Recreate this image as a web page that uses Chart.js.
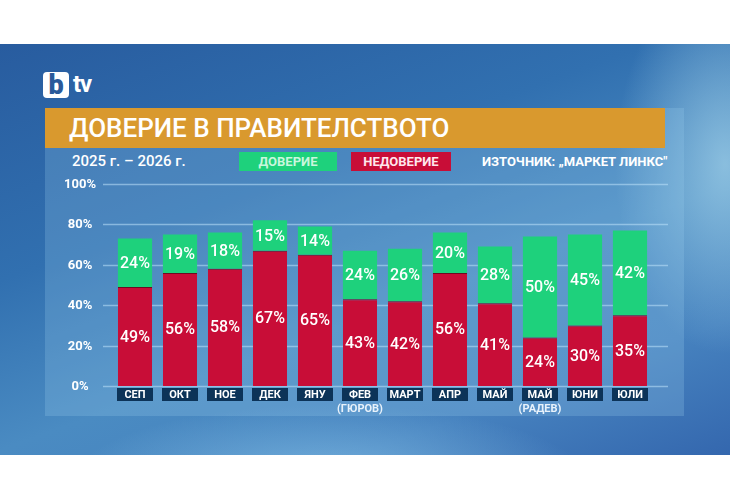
<!DOCTYPE html>
<html>
<head>
<meta charset="utf-8">
<script src="https://cdn.jsdelivr.net/npm/chart.js@4"></script>
<style>
  body { margin: 0; width: 730px; height: 500px; background: #fff; overflow: hidden; font-family: Roboto, "Noto Sans", sans-serif; }
  .bg {
    position: absolute; left: 0; top: 44px; width: 730px; height: 411px;
    background:
      radial-gradient(ellipse 110px 190px at 725px 120px, rgba(160,208,232,0.75), rgba(160,208,232,0) 100%),
      radial-gradient(ellipse 260px 80px at 330px 440px, rgba(140,200,235,0.7), rgba(140,200,235,0) 100%),
      linear-gradient(160deg, #285c9f 0%, #3170b0 35%, #4a8bc2 60%, #4682bf 80%, #3467ae 100%);
  }
  .panel { position: absolute; left: 45px; top: 108px; width: 639px; height: 308px; background: rgba(150,205,235,0.25); }
  .logo { position: absolute; left: 43px; top: 72px; height: 26px; }
  .logo .b { position: absolute; left: 0; top: 0; width: 26px; height: 26px; background: #fff; border-radius: 4px;
             color: #2a5a9a; font: 900 27px/26px Roboto, sans-serif; text-align: center; }
  .logo .tv { position: absolute; left: 30px; top: -2px; color: #fff; font: 700 24px/28px Roboto, sans-serif; letter-spacing: -1px; }
  .title { position: absolute; left: 45px; top: 108px; width: 620px; height: 40px; background: #d9992e; }
  .title span { position: absolute; left: 24px; top: 4px; color: #fff; font: 500 26px/32px Roboto, sans-serif; white-space: nowrap; }
  .sub { position: absolute; top: 152px; height: 19px; font: 500 15px/19px Roboto, sans-serif; color: #fff; white-space: nowrap; }
  .leg { position: absolute; top: 152px; height: 19px; font: 700 13px/19px Roboto, sans-serif; text-align: center; }
  #wrap { position: absolute; left: 0; top: 0; width: 730px; height: 500px; }
</style>
</head>
<body>
<div class="bg"></div>
<div class="panel"></div>
<div class="logo"><div class="b">b</div><div class="tv">tv</div></div>
<div class="title"><span>ДОВЕРИЕ В ПРАВИТЕЛСТВОТО</span></div>
<div class="sub" style="left:72px">2025 г. – 2026 г.</div>
<div class="leg" style="left:239px;width:98px;background:#1ed17c;color:#c9f6dd">ДОВЕРИЕ</div>
<div class="leg" style="left:351px;width:100px;background:#c80d37;color:#ffe6ec">НЕДОВЕРИЕ</div>
<div class="sub" style="left:482px;font-weight:700;font-size:13px">ИЗТОЧНИК: „МАРКЕТ ЛИНКС"</div>
<div id="wrap"><canvas id="chart"></canvas></div>

<script>
// months (second line = note under the label)
const months = [['СЕП'], ['ОКТ'], ['НОЕ'], ['ДЕК'], ['ЯНУ'], ['ФЕВ', '(ГЮРОВ)'], ['МАРТ'], ['АПР'], ['МАЙ'], ['МАЙ', '(РАДЕВ)'], ['ЮНИ'], ['ЮЛИ']];
const trust    = [24, 19, 18, 15, 14, 24, 26, 20, 28, 50, 45, 42];
const distrust = [49, 56, 58, 67, 65, 43, 42, 56, 41, 24, 30, 35];
const yTicks = [0, 20, 40, 60, 80, 100];

const red = '#c80d37';
const green = '#1ed17c';

/*** grid, axis labels, value labels */
const decor = {
  id: 'decor',
  beforeDatasetsDraw(chart) {
    const c = chart.ctx, y = chart.scales.y;
    c.save();
    c.strokeStyle = 'rgba(190,225,250,0.55)';
    c.lineWidth = 1.5;
    c.fillStyle = '#fff';
    c.font = 'bold 13px Roboto';
    c.textAlign = 'center';
    c.textBaseline = 'middle';
    yTicks.forEach(v => {
      const py = Math.round(y.getPixelForValue(v)) + 0.5;
      c.beginPath();
      c.moveTo(103, py);
      c.lineTo(668, py);
      c.stroke();
      c.fillText(v + '%', 80, py);
    });
    c.restore();
  },
  afterDatasetsDraw(chart) {
    const c = chart.ctx, x = chart.scales.x;
    c.save();
    c.textAlign = 'center';
    c.textBaseline = 'middle';
    // values in the middle of each segment
    c.font = '500 16px Roboto';
    c.fillStyle = '#fff';
    chart.data.datasets.forEach((ds, i) => {
      chart.getDatasetMeta(i).data.forEach((bar, j) => {
        const p = bar.getProps(['x', 'y', 'base'], true);
        c.fillText(ds.data[j] + '%', p.x, (p.y + p.base) / 2 + 1);
      });
    });
    // month boxes under bars
    const bottom = chart.chartArea.bottom;
    months.forEach((m, j) => {
      const px = x.getPixelForValue(j);
      c.fillStyle = '#0c3358';
      c.fillRect(px - 18, bottom + 2, 36, 13);
      c.fillStyle = '#fff';
      c.font = 'bold 11px Roboto';
      c.fillText(m[0], px, bottom + 9);
      if (m[1]) {
        c.fillStyle = '#e8f2fb';
        c.fillText(m[1], px, bottom + 23);
      }
    });
    c.restore();
  }
};

const ctx = document.getElementById('chart').getContext('2d');
const chart = new Chart(ctx, {
  type: 'bar',
  data: {
    labels: months.map(m => m.join(' ')),
    datasets: [{
      label: 'НЕДОВЕРИЕ',
      data: distrust,
      backgroundColor: red,
      borderColor: '#6e0a22',
      borderWidth: { top: 1, left: 0, right: 0, bottom: 0 },
      borderSkipped: false
    }, {
      label: 'ДОВЕРИЕ',
      data: trust,
      backgroundColor: green,
      borderWidth: 0
    }]
  },
  options: {
    responsive: true,
    maintainAspectRatio: false,
    animation: false,
    layout: { padding: { left: 112.5, right: 77.5, top: 184, bottom: 114 } },
    datasets: { bar: { barPercentage: 0.76, categoryPercentage: 1 } },
    plugins: { legend: { display: false }, tooltip: { enabled: false } },
    scales: {
      x: { stacked: true, display: false },
      y: { stacked: true, display: false, min: 0, max: 100 }
    }
  },
  plugins: [decor]
});
</script>
</body>
</html>
